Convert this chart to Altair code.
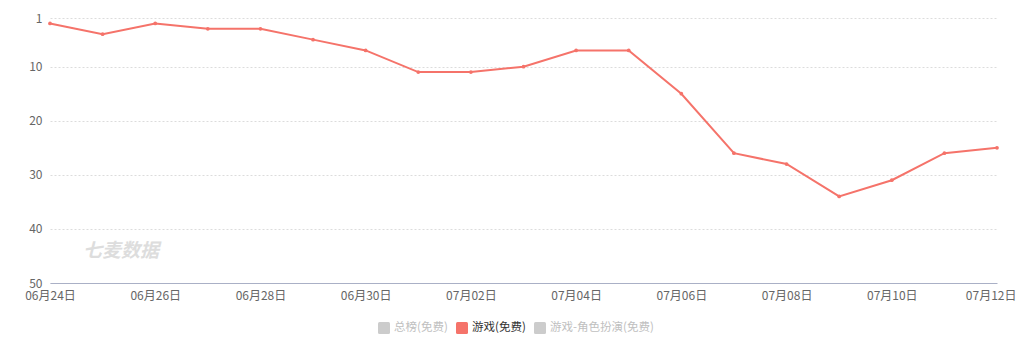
import altair as alt
import pandas as pd

dates = ["06月24日", "06月25日", "06月26日", "06月27日", "06月28日", "06月29日", "06月30日",
         "07月01日", "07月02日", "07月03日", "07月04日", "07月05日", "07月06日", "07月07日",
         "07月08日", "07月09日", "07月10日", "07月11日", "07月12日"]
ranks = [2, 4, 2, 3, 3, 5, 7, 11, 11, 10, 7, 7, 15, 26, 28, 34, 31, 26, 25]
series_names = ["总榜(免费)", "游戏(免费)", "游戏-角色扮演(免费)"]
series_colors = ["#cccccc", "#f5736a", "#cccccc"]
active_series = "游戏(免费)"
y_ticks = [1, 10, 20, 30, 40, 50]
x_label_dates = dates[::2]

df = pd.DataFrame({"date": dates, "rank": ranks, "series": active_series})

FONT = "Noto Sans CJK SC"
last_test = f"datum.value == '{dates[-1]}'"

x = alt.X("date:O", sort=dates,
          scale=alt.Scale(type="point", padding=0),
          axis=alt.Axis(values=x_label_dates, title=None, labelAngle=0, ticks=False,
                        domainColor="#aab0c6", labelColor="#666", labelFontSize=12,
                        labelPadding=7, grid=False, labelFont=FONT,
                        labelAlign={"condition": {"test": last_test, "value": "right"}, "value": "center"},
                        labelOffset={"condition": {"test": last_test, "value": 19}, "value": 0}))
y = alt.Y("rank:Q",
          scale=alt.Scale(domain=[1, 50], reverse=True, nice=False, zero=False),
          axis=alt.Axis(values=y_ticks, title=None, ticks=False, domain=False,
                        gridColor="#dcdcdc", gridDash=[2, 2], labelColor="#666",
                        labelFontSize=12, labelPadding=8, labelFont=FONT))

color = alt.Color("series:N",
                  scale=alt.Scale(domain=series_names, range=series_colors),
                  legend=alt.Legend(title=None, orient="none", direction="horizontal",
                                    legendX=328, legendY=304,
                                    symbolType="M -0.75 -1 H 0.75 Q 1 -1 1 -0.75 V 0.75 Q 1 1 0.75 1 H -0.75 Q -1 1 -1 0.75 V -0.75 Q -1 -1 -0.75 -1 Z",
                                    symbolSize=144, symbolStrokeWidth=0, symbolOpacity=1,
                                    labelFontSize=11.5, labelFont=FONT, columnPadding=8,
                                    labelOffset=4,
                                    labelColor={"expr": "datum.label == '游戏(免费)' ? '#333333' : '#c0c0c0'"}))

points = alt.Chart(df).mark_point(filled=True, size=14, opacity=1).encode(x=x, y=y, color=color)
line = alt.Chart(df).mark_line(strokeWidth=2, color="#f5736a").encode(x=x, y=y, detail="series:N")

watermark = alt.Chart(pd.DataFrame({"t": ["七麦数据"]})).mark_text(
    font=FONT, fontSize=19, fontStyle="italic", fontWeight="bold", color="#dddddd",
    align="left", baseline="middle").encode(
    text="t:N", x=alt.value(33), y=alt.value(233))

chart = alt.layer(watermark, points, line).properties(
    width=947, height=265,
    autosize=alt.AutoSizeParams(type="none"),
    padding={"left": 42, "top": 10, "right": 19, "bottom": 64},
).configure(background="white").configure_view(stroke=None)

chart.save("out.html", embed_options={"renderer": "svg", "actions": False})
